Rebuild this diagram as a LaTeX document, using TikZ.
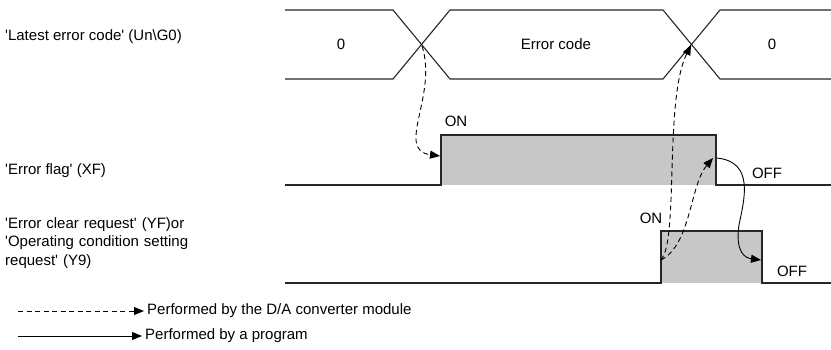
\documentclass[tikz,border=0pt]{standalone}
\usepackage{fontspec}
\setmainfont{Liberation Sans}
\usetikzlibrary{arrows.meta, positioning}
\newcommand{\sq}{\textquotesingle}

\begin{document}
\begin{tikzpicture}[
  x=1pt, y=-1pt, font=\fontsize{15}{18.5}\selectfont,
  >={Triangle[length=10pt,width=8pt]},
  sig/.style={draw=black!85, line width=1.1pt},
  hi/.style={fill=black!22},
  lbl/.style={anchor=west, align=left, inner sep=0pt},
  val/.style={inner sep=0pt},
  mod/.style={->, line width=0.9pt, dash pattern=on 5pt off 3.5pt},
  prg/.style={->, line width=0.9pt}]
  \useasboundingbox (0,0) rectangle (831,349);
  % signal names
  \node[lbl] (lec) at (5,37) {\sq Latest error code\sq\ (Un\textbackslash G0)};
  \node[lbl] (xf) at (5,171) {\sq Error flag\sq\ (XF)};
  \node[lbl, text width=240pt] (yf) at (5,243) {\sq Error clear request\sq\ (YF)or\\ \sq Operating condition setting\\ request\sq\ (Y9)};
  % latest error code
  \draw[sig] (285,10) -- (393,10) -- (450,79) -- (663,79) -- (720,10) -- (831,10);
  \draw[sig] (285,79) -- (393,79) -- (450,10) -- (663,10) -- (720,79) -- (831,79);
  \coordinate (x1) at (422,46);
  \coordinate (x2) at (691,45);
  \node[val] (v0) at (341,44) {0};
  \node[val] (verr) at (556,44) {Error code};
  \node[val] (v1) at (772,44) {0};
  % error flag
  \fill[hi] (441,135) rectangle (716,185);
  \draw[sig] (285,185) -- (441,185) -- (441,135) -- (716,135) -- (716,185) -- (831,185);
  \node[val] (xfon) at (456,121) {ON};
  \node[val] (xfoff) at (767,173) {OFF};
  \coordinate (ef1) at (440,156);
  \coordinate (ef2) at (713,158);
  \coordinate (ef3) at (717,158);
  % request
  \fill[hi] (661,231) rectangle (762,283);
  \draw[sig] (285,283) -- (661,283) -- (661,231) -- (762,231) -- (762,283) -- (831,283);
  \node[val] (yfon) at (651,218) {ON};
  \node[val] (yfoff) at (792,271) {OFF};
  \coordinate (rq1) at (661,260);
  \coordinate (rq2) at (761,260);
  % transitions
  \draw[mod] (x1) .. controls (438,95) and (395,150) .. (ef1);
  \draw[mod] (rq1) .. controls (679,240) and (664,100) .. (x2);
  \draw[mod] (rq1) .. controls (691,245) and (690,185) .. (ef2);
  \draw[prg] (ef3) .. controls (755,162) and (744,200) .. (739,225)
                   .. controls (735,252) and (745,258) .. (rq2);
  % legend
  \node[lbl] (lgmod) at (147,311) {Performed by the D/A converter module};
  \node[lbl] (lgprg) at (145,336) {Performed by a program};
  \coordinate (lgmod0) at (18,311);
  \coordinate (lgprg0) at (18,336);
  \draw[mod, shorten >=3pt] (lgmod0) -- (lgmod.west);
  \draw[prg, shorten >=3pt] (lgprg0) -- (lgprg.west);
\end{tikzpicture}
\end{document}
